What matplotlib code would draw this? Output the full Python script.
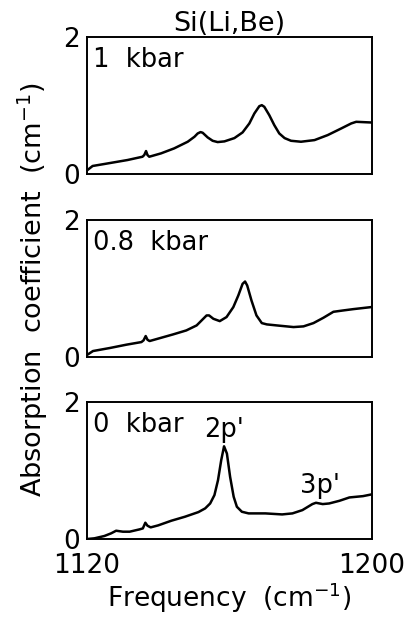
import matplotlib
matplotlib.use("Agg")
import matplotlib.pyplot as plt

plt.rcParams['font.family'] = ['DejaVu Sans']

# Data (frequency in cm^-1, absorption in cm^-1)
freq_1kbar = [1120.4, 1121.6, 1124.9, 1131.4, 1135.6, 1136.1, 1136.6, 1137.0, 1137.5,
              1140.8, 1144.5, 1148.3, 1150.2, 1151.1, 1151.9, 1152.5, 1153.9, 1155.3,
              1156.7, 1158.6, 1161.4, 1163.7, 1165.6, 1167.0, 1168.4, 1169.1, 1169.8,
              1171.2, 1172.6, 1174.0, 1175.5, 1177.3, 1180.1, 1183.9, 1187.6, 1191.4,
              1194.2, 1195.6, 1199.8]
abs_1kbar = [0.068, 0.117, 0.146, 0.204, 0.252, 0.277, 0.335, 0.277, 0.252,
             0.301, 0.374, 0.471, 0.544, 0.592, 0.612, 0.602, 0.534, 0.485,
             0.466, 0.476, 0.524, 0.607, 0.738, 0.883, 0.990, 1.005, 0.981,
             0.859, 0.714, 0.592, 0.524, 0.485, 0.471, 0.495, 0.568, 0.665,
             0.738, 0.762, 0.752]

freq_08kbar = [1120.3, 1121.7, 1126.4, 1131.1, 1135.3, 1135.9, 1136.5, 1137.0, 1137.6,
               1144.2, 1147.9, 1150.8, 1152.2, 1153.6, 1154.3, 1155.5, 1157.3, 1159.2,
               1161.1, 1162.5, 1163.7, 1164.4, 1165.0, 1166.2, 1167.6, 1169.1, 1170.5,
               1173.3, 1178.0, 1180.8, 1183.6, 1186.4, 1189.2, 1192.0, 1194.8, 1199.7]
abs_08kbar = [0.039, 0.087, 0.131, 0.180, 0.218, 0.243, 0.306, 0.252, 0.233,
              0.330, 0.388, 0.461, 0.534, 0.607, 0.607, 0.558, 0.524, 0.583,
              0.728, 0.898, 1.068, 1.102, 1.044, 0.825, 0.607, 0.495, 0.476,
              0.461, 0.437, 0.447, 0.495, 0.573, 0.660, 0.680, 0.699, 0.728]

freq_0kbar = [1120.0, 1122.1, 1124.9, 1126.8, 1128.2, 1130.1, 1132.0, 1134.8, 1135.7,
              1136.4, 1137.0, 1137.9, 1140.0, 1143.7, 1147.5, 1151.3, 1153.2, 1154.6,
              1155.8, 1156.8, 1157.7, 1158.5, 1159.3, 1160.2, 1161.2, 1162.1, 1163.5,
              1165.4, 1170.1, 1174.8, 1177.7, 1180.5, 1183.3, 1184.3, 1186.2, 1188.0,
              1190.9, 1193.7, 1197.5, 1199.8]
abs_0kbar = [0.0, 0.01, 0.044, 0.083, 0.121, 0.107, 0.107, 0.141, 0.155,
             0.238, 0.194, 0.170, 0.199, 0.267, 0.325, 0.393, 0.447, 0.519,
             0.641, 0.859, 1.150, 1.354, 1.248, 0.908, 0.617, 0.471, 0.398,
             0.374, 0.374, 0.359, 0.374, 0.422, 0.510, 0.529, 0.510, 0.519,
             0.558, 0.607, 0.626, 0.650]

panel_labels = ["1  kbar", "0.8  kbar", "0  kbar"]
x_ticks = [1120, 1200]
y_ticks = [0, 2]

series = [(freq_1kbar, abs_1kbar), (freq_08kbar, abs_08kbar), (freq_0kbar, abs_0kbar)]

fig = plt.figure(figsize=(4.10, 6.17), dpi=100)
left, width, height = 0.212, 0.695, 0.222
bottoms = [0.718, 0.4214, 0.1264]

axes = []
for i, ((fx, ay), b) in enumerate(zip(series, bottoms)):
    ax = fig.add_axes([left, b, width, height])
    ax.plot(fx, ay, color='black', lw=1.8, solid_joinstyle='round')
    ax.set_xlim(1120, 1200)
    ax.set_ylim(0, 2)
    ax.set_yticks(y_ticks)
    ax.set_yticklabels([str(v) for v in y_ticks], fontsize=19)
    ax.tick_params(axis='both', length=0)
    ax.tick_params(axis='y', pad=5)
    for s in ax.spines.values():
        s.set_linewidth(1.4)
    ax.text(0.022, 0.93, panel_labels[i], transform=ax.transAxes, fontsize=18.5,
            va='top', ha='left')
    if i < 2:
        ax.set_xticks([])
    else:
        ax.set_xticks(x_ticks)
        ax.set_xticklabels([str(v) for v in x_ticks], fontsize=19)
        ax.tick_params(axis='x', pad=10)
        ax.set_xlabel("Frequency  (cm$^{-1}$)", fontsize=19, labelpad=1)
    axes.append(ax)

axes[0].set_title("Si(Li,Be)", fontsize=19.5, pad=3)
axes[2].text(1158.4, 1.40, "2p'", fontsize=18.5, ha='center', va='bottom')
axes[2].text(1185.3, 0.58, "3p'", fontsize=18.5, ha='center', va='bottom')

fig.text(0.080, 0.530, "Absorption  coefficient  (cm$^{-1}$)", rotation=90,
         fontsize=19.5, ha='center', va='center')

fig.savefig("out.png", dpi=100)
